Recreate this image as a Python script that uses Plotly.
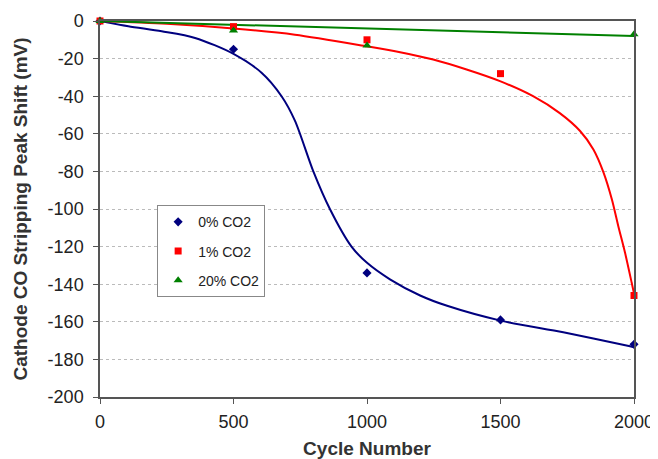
import plotly.graph_objects as go

# Measured points
cycles = [0, 500, 1000, 1500, 2000]
co2_0 = [0, -15, -134, -159, -172]
co2_1 = [0, -3, -10, -28, -146]
cycles_20 = [0, 500, 1000, 2000]
co2_20_vals = [0, -5, -13, -7]

# Trend lines
trend0_x = [0, 106, 231, 356, 500, 605, 680, 730, 799, 861, 942, 999, 1086, 1199, 1300, 1504, 1735, 1985, 2000]
trend0_y = [0, -2.8, -5.5, -9, -17.5, -27.5, -40, -53, -80, -100, -120, -128.5, -137.4, -146, -151.5, -159.5, -165.6, -173, -173.5]
trend1_x = [0, 250, 500, 730, 1000, 1124, 1248, 1373, 1498, 1622, 1722, 1798, 1848, 1886, 1917, 1941, 1966, 1991, 2000]
trend1_y = [0, -1.5, -4, -7.3, -13.5, -16.6, -20.5, -25.8, -32, -40, -49, -58.5, -68.3, -80.6, -94.8, -109, -123, -139, -145]
trend20_x = [0, 1000, 2000]
trend20_y = [0, -4, -8]

y_ticks = list(range(-200, 1, 20))
x_ticks = [0, 500, 1000, 1500, 2000]

BLUE = "#00007F"
RED = "#FF0000"
GREEN = "#008000"
FONT = "Liberation Sans, Arial, sans-serif"

fig = go.Figure()

fig.add_trace(go.Scatter(x=trend0_x, y=trend0_y, mode="lines", line=dict(color=BLUE, width=2, shape="spline", smoothing=0.8),
                         showlegend=False, hoverinfo="skip", cliponaxis=False))
fig.add_trace(go.Scatter(x=trend1_x, y=trend1_y, mode="lines", line=dict(color=RED, width=2, shape="spline", smoothing=0.8),
                         showlegend=False, hoverinfo="skip", cliponaxis=False))
fig.add_trace(go.Scatter(x=trend20_x, y=trend20_y, mode="lines", line=dict(color=GREEN, width=2),
                         showlegend=False, hoverinfo="skip", cliponaxis=False))

fig.add_trace(go.Scatter(x=cycles, y=co2_0, mode="markers", name="0% CO2", legendgroup="a",
                         marker=dict(symbol="diamond", size=7, color=BLUE), cliponaxis=False))
fig.add_trace(go.Scatter(x=cycles, y=co2_1, mode="markers", name="1% CO2", legendgroup="b",
                         marker=dict(symbol="square", size=7, color=RED), cliponaxis=False))
fig.add_trace(go.Scatter(x=cycles_20, y=co2_20_vals, mode="markers", name="20% CO2", legendgroup="c",
                         marker=dict(symbol="triangle-up", size=8, color=GREEN), cliponaxis=False))

fig.update_layout(
    width=650, height=451,
    margin=dict(l=92, r=24, t=13, b=62),
    paper_bgcolor="white", plot_bgcolor="white",
    font=dict(family=FONT, size=18, color="#222222"),
    legend=dict(x=0.107, y=0.51, xanchor="left", yanchor="top",
                bgcolor="white", bordercolor="#888888", borderwidth=1,
                font=dict(size=14, color="#222222"), tracegroupgap=8,
                itemwidth=30),
    showlegend=True,
)

fig.update_xaxes(range=[0, 2000], tickvals=x_ticks, ticktext=[str(v) for v in x_ticks],
                 showgrid=False, zeroline=False, showline=True, linecolor="#555555", linewidth=1.5,
                 mirror=True, ticks="outside", ticklen=5, tickcolor="#555555", automargin=False,
                 ticklabelstandoff=3,
                 title=dict(text="<b>Cycle Number</b>", font=dict(size=19, color="#333333")))
fig.update_yaxes(range=[-200, 0], tickvals=y_ticks, ticktext=[str(v) for v in y_ticks],
                 showgrid=True, gridcolor="#BBBBBB", griddash="dot", gridwidth=1,
                 zeroline=False, showline=True, linecolor="#555555", linewidth=1.5,
                 mirror=True, ticks="outside", ticklen=5, tickcolor="#555555", automargin=False,
                 ticklabelstandoff=6,
                 title=dict(text="<b>Cathode CO Stripping Peak Shift (mV)</b>", font=dict(size=19, color="#333333")))

fig.write_html("out.html")
